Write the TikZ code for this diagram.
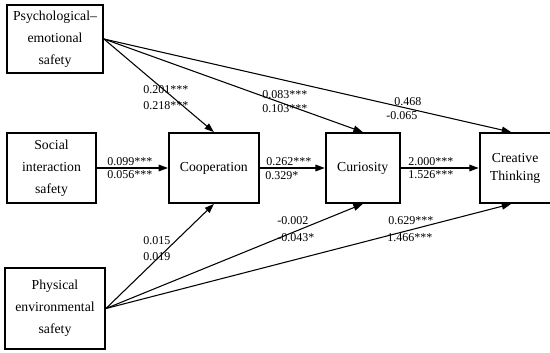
\documentclass[tikz,border=0pt]{standalone}
\usepackage{fontspec}
\setmainfont{Liberation Serif}
\usetikzlibrary{positioning,arrows.meta}

\begin{document}
\begin{tikzpicture}[x=0.75pt, y=-0.75pt,
    box/.style={draw, line width=1.4pt, align=center, inner sep=2pt,
                font=\fontsize{10.3}{16.5}\selectfont},
    arr/.style={-{Triangle[length=7pt,width=5pt]}, line width=0.8pt},
    lbl/.style={anchor=west, inner sep=0pt, font=\fontsize{9}{11}\selectfont}]
  \useasboundingbox (0,0) rectangle (550,353);
  % predictors
  \node[box, minimum width=72pt, minimum height=51pt] (psy) at (55,39)
       {Psychological--\\emotional\\safety};
  \node[box, minimum width=66.75pt, minimum height=52.5pt] (soc) at (51.5,168)
       {Social\\interaction\\safety};
  \node[box, minimum width=75pt, minimum height=60.75pt] (phy) at (55,308.5)
       {Physical\\environmental\\safety};
  % mediators and outcome
  \node[box, minimum width=67.5pt, minimum height=52.5pt, right=53.25pt of soc] (coop)
       {Cooperation};
  \node[box, minimum width=55.5pt, minimum height=52.5pt, right=48.75pt of coop] (cur)
       {Curiosity};
  \node[box, minimum width=53.25pt, minimum height=52.5pt, right=58.5pt of cur,
        font=\fontsize{10.3}{13.5}\selectfont] (ct)
       {Creative\\Thinking};
  % paths
  \draw[arr] (psy.east) -- (coop.north);
  \draw[arr] (psy.east) -- (cur.north);
  \draw[arr] (psy.east) -- ([xshift=-3pt]ct.north);
  \draw[arr] (soc) -- (coop);
  \draw[arr] (coop) -- (cur);
  \draw[arr] (cur) -- (ct);
  \draw[arr] (phy.east) -- (coop.south);
  \draw[arr] (phy.east) -- (cur.south);
  \draw[arr] (phy.east) -- ([xshift=-3pt]ct.south);
  % coefficients
  \node[lbl] (psycoopa) at (143,90) {0.201***};
  \node[lbl] (psycoopb) at (143,106) {0.218***};
  \node[lbl] (psycura) at (262,95) {0.083***};
  \node[lbl] (psycurb) at (262,109) {0.103***};
  \node[lbl] (psycta) at (394,102) {0.468};
  \node[lbl] (psyctb) at (386,116) {-0.065};
  \node[lbl] (soccoopa) at (107,162) {0.099***};
  \node[lbl] (soccoopb) at (107,175) {0.056***};
  \node[lbl] (coopcura) at (266,162) {0.262***};
  \node[lbl] (coopcurb) at (265,176) {0.329*};
  \node[lbl] (curcta) at (408,162) {2.000***};
  \node[lbl] (curctb) at (408,175) {1.526***};
  \node[lbl] (phycoopa) at (143,241) {0.015};
  \node[lbl] (phycoopb) at (143,257) {0.019};
  \node[lbl] (phycura) at (277,221) {-0.002};
  \node[lbl] (phycurb) at (277,238) {-0.043*};
  \node[lbl] (phycta) at (388,221) {0.629***};
  \node[lbl] (phyctb) at (387,238) {1.466***};
\end{tikzpicture}
\end{document}
